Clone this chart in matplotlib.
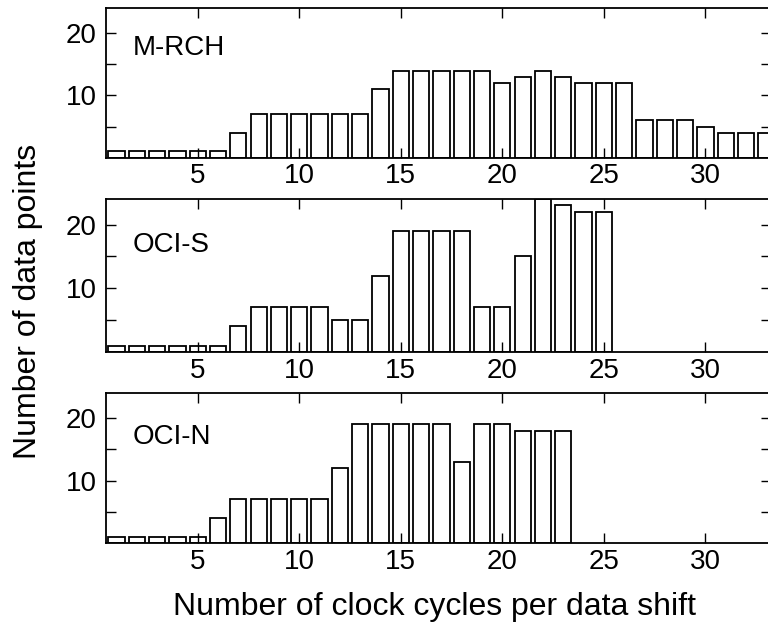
import numpy as np
import matplotlib
matplotlib.use("Agg")
import matplotlib.pyplot as plt

plt.rcParams['font.family'] = ['Liberation Sans', 'DejaVu Sans']

# histogram counts, one bar per number of clock cycles (1, 2, 3, ...)
mrch = [1, 1, 1, 1, 1, 1, 4, 7, 7, 7, 7, 7, 7, 11, 14, 14, 14, 14, 14,
        12, 13, 14, 13, 12, 12, 12, 6, 6, 6, 5, 4, 4, 4]
ocis = [1, 1, 1, 1, 1, 1, 4, 7, 7, 7, 7, 5, 5, 12, 19, 19, 19, 19, 7, 7,
        15, 24, 23, 22, 22]
ocin = [1, 1, 1, 1, 1, 4, 7, 7, 7, 7, 7, 12, 19, 19, 19, 19, 19, 13, 19,
        19, 18, 18, 18]

labels = ["M-RCH", "OCI-S", "OCI-N"]
series = [mrch, ocis, ocin]
xticks = [5, 10, 15, 20, 25, 30]
yticks = [5, 10, 15, 20]
ylabels = ["", "10", "", "20"]

fig = plt.figure(figsize=(7.68, 6.28), dpi=100)

# [left, bottom, width, height] per panel
boxes = [[0.1385, 0.749, 0.866, 0.2375],
         [0.1385, 0.4395, 0.866, 0.2436],
         [0.1385, 0.1354, 0.866, 0.2384]]
label_y = [0.735, 0.70, 0.705]

for box, lab, vals, ly in zip(boxes, labels, series, label_y):
    ax = fig.add_axes(box)
    x = np.arange(1, len(vals) + 1)
    ax.bar(x, vals, width=0.8, color="white", edgecolor="black", linewidth=1.3)
    ax.set_xlim(0.5, 33.25)
    ax.set_ylim(0, 24)
    ax.set_xticks(xticks)
    ax.set_yticks(yticks)
    ax.set_yticklabels(ylabels)
    ax.tick_params(direction="in", top=True, right=True, length=7, width=1,
                   labelsize=20)
    ax.tick_params(axis="x", pad=4)
    ax.tick_params(axis="y", pad=7)
    for s in ax.spines.values():
        s.set_linewidth(1.3)
    ax.spines["right"].set_visible(False)
    ax.text(0.04, ly, lab, transform=ax.transAxes, fontsize=20,
            va="center", ha="left")

fig.text(0.037, 0.52, "Number of data points", rotation=90, fontsize=23,
         ha="center", va="center")
fig.text(0.566, 0.033, "Number of clock cycles per data shift", fontsize=23,
         ha="center", va="center")

fig.savefig("out.png", dpi=100)
